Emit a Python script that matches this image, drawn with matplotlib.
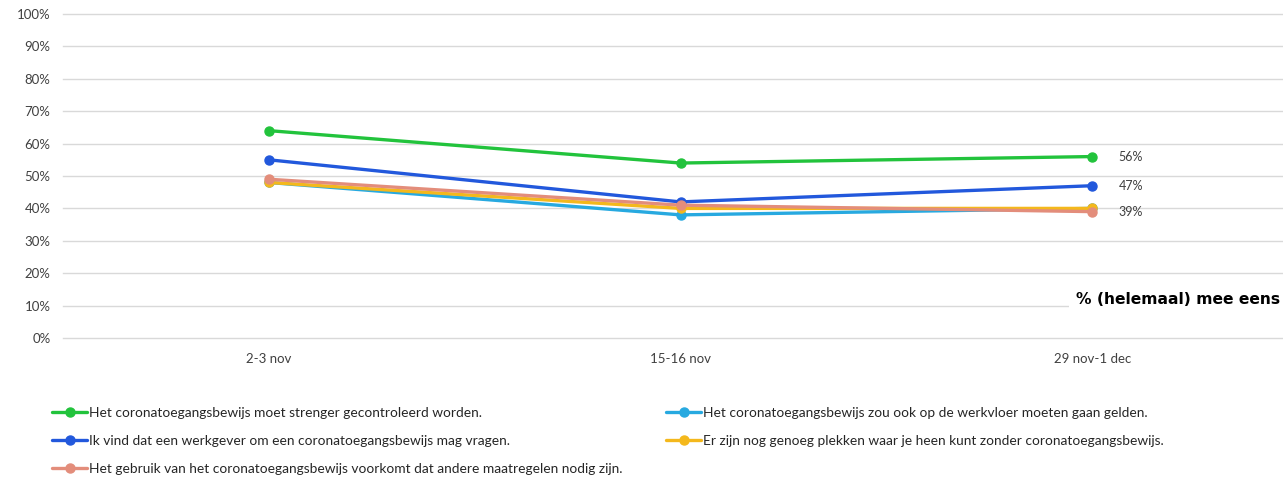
import matplotlib.pyplot as plt

periods = ["2-3 nov", "15-16 nov", "29 nov-1 dec"]

# series in the order they are drawn (last one on top)
green = [64, 54, 56]
cyan = [48, 38, 40]
blue = [55, 42, 47]
yellow = [48, 40, 40]
salmon = [49, 41, 39]

labels = {
    "green": "Het coronatoegangsbewijs moet strenger gecontroleerd worden.",
    "cyan": "Het coronatoegangsbewijs zou ook op de werkvloer moeten gaan gelden.",
    "blue": "Ik vind dat een werkgever om een coronatoegangsbewijs mag vragen.",
    "yellow": "Er zijn nog genoeg plekken waar je heen kunt zonder coronatoegangsbewijs.",
    "salmon": "Het gebruik van het coronatoegangsbewijs voorkomt dat andere maatregelen nodig zijn.",
}
colors = {
    "green": "#22c33c",
    "cyan": "#27a9e0",
    "blue": "#2258dc",
    "yellow": "#f4b81c",
    "salmon": "#e38d7b",
}
series = {"green": green, "cyan": cyan, "blue": blue, "yellow": yellow, "salmon": salmon}
end_labels = ["green", "blue", "salmon"]

plt.rcParams['font.family'] = ['Lato', 'DejaVu Sans']

fig = plt.figure(figsize=(12.83, 4.82), dpi=100)
ax = fig.add_axes([63 / 1283, 144 / 482, 1235 / 1283, 324 / 482])

x = list(range(len(periods)))
handles = {}
for key, vals in series.items():
    (ln,) = ax.plot(x, [v / 100 for v in vals], color=colors[key], lw=2.4,
                    marker='o', markersize=6.5, solid_capstyle='round', zorder=3)
    handles[key] = ln

for key in end_labels:
    v = series[key][-1]
    ax.annotate(f"{v}%", (x[-1], v / 100), xytext=(19, 0), textcoords='offset points',
                va='center', ha='left', fontsize=9, color='#404040')

ax.set_xlim(-0.5, len(periods) - 0.5)
ax.set_ylim(0, 1)
ax.set_yticks([i / 10 for i in range(11)])
ax.set_yticklabels([f"{i * 10}%" for i in range(11)])
ax.set_xticks(x)
ax.set_xticklabels(periods)
ax.tick_params(length=0, labelsize=9.5, labelcolor='#404040')
ax.tick_params(axis='y', pad=9)
ax.tick_params(axis='x', pad=11)
ax.grid(axis='y', color='#d9d9d9', lw=1)
for gl in ax.get_ygridlines():
    gl.set_clip_on(False)
ax.set_axisbelow(True)
for s in ax.spines.values():
    s.set_visible(False)

fig.text(1076 / 1283, 1 - 300 / 482, "% (helemaal) mee eens", fontsize=11.2,
         fontweight='bold', family='DejaVu Sans', va='center', ha='left', color='black',
         bbox=dict(facecolor='white', edgecolor='none', pad=5))

leg_kw = dict(frameon=False, fontsize=9.9, handlelength=2.55, handletextpad=0.15,
              labelspacing=1.15, borderaxespad=0, borderpad=0, labelcolor='#262626')
left = ["green", "blue", "salmon"]
right = ["cyan", "yellow"]
fig.legend([handles[k] for k in left], [labels[k] for k in left],
           loc='upper left', bbox_to_anchor=(52 / 1283, 1 - 407 / 482), **leg_kw)
fig.legend([handles[k] for k in right], [labels[k] for k in right],
           loc='upper left', bbox_to_anchor=(666 / 1283, 1 - 407 / 482), **leg_kw)

fig.savefig("out.png", dpi=100, facecolor='white')
